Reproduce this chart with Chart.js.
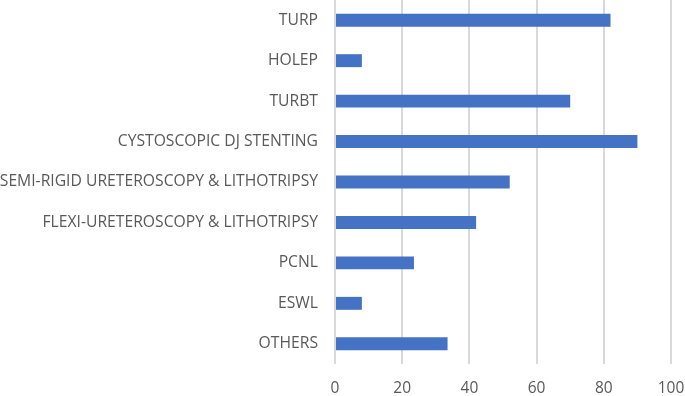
<!DOCTYPE html>
<html>
<head>
<meta charset="utf-8">
<script src="https://cdn.jsdelivr.net/npm/chart.js@4/dist/chart.umd.min.js"></script>
<style>
  html, body { margin: 0; padding: 0; background: #fff; }
  #wrap { width: 685px; height: 396px; position: relative; }
</style>
</head>
<body>
<div id="wrap"><canvas id="procChart"></canvas></div>
<script>
const categories = [
  'TURP',
  'HOLEP',
  'TURBT',
  'CYSTOSCOPIC DJ STENTING',
  'SEMI-RIGID URETEROSCOPY & LITHOTRIPSY',
  'FLEXI-URETEROSCOPY & LITHOTRIPSY',
  'PCNL',
  'ESWL',
  'OTHERS'
];
const counts = [82, 8, 70, 90, 52, 42, 23.5, 8, 33.5];
const xTicks = [0, 20, 40, 60, 80, 100];

const ctx = document.getElementById('procChart').getContext('2d');
new Chart(ctx, {
  type: 'bar',
  data: {
    labels: categories,
    datasets: [{
      data: counts,
      backgroundColor: '#4472C4',
      borderColor: '#4472C4',
      borderWidth: 0,
      barPercentage: 0.64,
      categoryPercentage: 0.5
    }]
  },
  options: {
    indexAxis: 'y',
    responsive: true,
    maintainAspectRatio: false,
    animation: false,
    layout: { padding: { top: 0, right: 14, bottom: 0, left: 0 } },
    plugins: { legend: { display: false }, tooltip: { enabled: false } },
    scales: {
      x: {
        min: 0,
        max: 100,
        afterBuildTicks: (scale) => { scale.ticks = xTicks.map(v => ({ value: v })); },
        // pin the plot area to the reference's frame
        afterFit: (scale) => { scale.height = 32; scale.paddingRight = 0; scale.paddingLeft = 0; },
        grid: { color: '#d9d9d9', lineWidth: 2, drawTicks: false },
        border: { display: false },
        ticks: { color: '#595959', font: { family: 'Open Sans', size: 15.5 }, padding: 15 }
      },
      y: {
        afterFit: (scale) => { scale.width = 335; scale.paddingTop = 0; scale.paddingBottom = 0; },
        grid: { display: false, drawTicks: false },
        border: { display: false },
        ticks: { color: '#595959', font: { family: 'Open Sans', size: 15.7 }, padding: 17 }
      }
    }
  }
});
</script>
</body>
</html>
